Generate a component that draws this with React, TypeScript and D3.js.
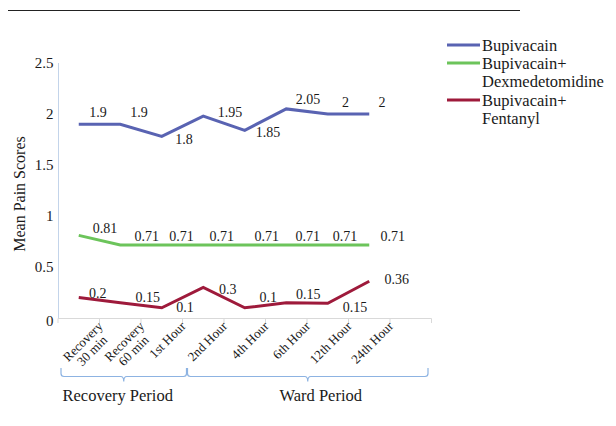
import React from 'react';
import * as d3 from 'd3';

// ---------- data ----------
const categories = [
  'Recovery\n30 min',
  'Recovery\n60 min',
  '1st Hour',
  '2nd Hour',
  '4th Hour',
  '6th Hour',
  '12th Hour',
  '24th Hour',
];
const slotCount = 9; // category slots on the axis (last one empty)

const seriesNames = ['Bupivacain', 'Bupivacain+\nDexmedetomidine', 'Bupivacain+\nFentanyl'];

const bupivacainValues = [1.9, 1.9, 1.78, 1.98, 1.84, 2.05, 2, 2];
const bupivacainLabels = ['1.9', '1.9', '1.8', '1.95', '1.85', '2.05', '2', '2'];

const dexValues = [0.81, 0.715, 0.715, 0.715, 0.715, 0.715, 0.715, 0.715];
const dexLabels = ['0.81', '0.71', '0.71', '0.71', '0.71', '0.71', '0.71', '0.71'];

const fentanylValues = [0.2, 0.15, 0.1, 0.3, 0.1, 0.15, 0.145, 0.36];
const fentanylLabels = ['0.2', '0.15', '0.1', '0.3', '0.1', '0.15', '0.15', '0.36'];

const yTicks = [0, 0.5, 1, 1.5, 2, 2.5];
const yTickLabels = ['0', '0.5', '1', '1.5', '2', '2.5'];

const periodNames = ['Recovery Period', 'Ward Period'];
const periodStart = [0, 3];
const periodEnd = [3, 9];

const yTitle = 'Mean Pain Scores';

// ---------- layout / style (not data) ----------
const W = 616;
const H = 426;
const colors = ['#5963B2', '#6CC45B', '#9E1A3B'];
const FONT = '"Liberation Serif", "Times New Roman", serif';

// label offsets relative to (tick at right of point, point y)
const bupLabelDx = [-1.5, -2, 1.5, 6, 2.5, 1, -3, -8];
const bupLabelDy = [-12, -12, 3, -4, 2.5, -9, -12, -12];
const dexLabelDx = [5.5, 5.7, -1, -2.3, 1.2, 0.7, -3.5, 2.7];
const dexLabelDy = [-7, -8.4, -8.4, -8.4, -8.4, -8.4, -8.4, -8.4];
const fenLabelDx = [-1.8, 6.7, 2.5, 3.7, 2.8, 1.3, 6.5, 6.7];
const fenLabelDy = [-4.3, -5.4, -0.5, 1.9, -10.5, -8.7, 4, -1.3];

let ctx: CanvasRenderingContext2D | null = null;
function measure(text: string, size: number) {
  if (!ctx) ctx = document.createElement('canvas').getContext('2d');
  if (!ctx) return text.length * size * 0.5;
  ctx.font = `${size}px "Liberation Serif"`;
  return ctx.measureText(text).width;
}

export default function App() {
  const x = d3.scaleLinear().domain([0, slotCount]).range([58, 431.5]);
  const y = d3.scaleLinear().domain([0, 2.5]).range([318, 63]);

  const series = [
    { name: seriesNames[0], values: bupivacainValues, labels: bupivacainLabels, dx: bupLabelDx, dy: bupLabelDy },
    { name: seriesNames[1], values: dexValues, labels: dexLabels, dx: dexLabelDx, dy: dexLabelDy },
    { name: seriesNames[2], values: fentanylValues, labels: fentanylLabels, dx: fenLabelDx, dy: fenLabelDy },
  ];

  const line = d3
    .line<number>()
    .x((_, i) => x(i + 0.5))
    .y((d) => y(d));

  const xLabelSize = 13;
  const lh = 13;

  const bracket = (x0: number, x1: number) => {
    const top = 368;
    const bot = 376.5;
    const r = 3;
    const cx = (x0 + x1) / 2;
    return [
      `M${x0},${top}`,
      `L${x0},${bot - r}`,
      `Q${x0},${bot} ${x0 + r},${bot}`,
      `L${cx - 3},${bot}`,
      `Q${cx},${bot} ${cx},${bot + 5}`,
      `Q${cx},${bot} ${cx + 3},${bot}`,
      `L${x1 - r},${bot}`,
      `Q${x1},${bot} ${x1},${bot - r}`,
      `L${x1},${top}`,
    ].join(' ');
  };

  const bracketX0 = (i: number) => (i === 0 ? x(periodStart[i]) + 3 : x(periodStart[i]) + 5);
  const bracketX1 = (i: number) => (i === 0 ? x(periodEnd[i]) + 4 : x(periodEnd[i]) - 3.5);

  return (
    <svg
      width={W}
      height={H}
      style={{ position: 'absolute', left: 0, top: 0, background: '#fff' }}
      fontFamily={FONT}
    >
      <rect x={0} y={0} width={W} height={H} fill="#fff" />
      {/* top rule */}
      <line x1={8} x2={520} y1={10.5} y2={10.5} stroke="#222" strokeWidth={1.2} />

      {/* y axis */}
      <line x1={58.5} x2={58.5} y1={y(2.5)} y2={y(0)} stroke="#C3D4EA" strokeWidth={1} />
      {yTicks.map((t, i) => (
        <text
          key={t}
          x={53.5}
          y={y(t) + (i === 0 ? 3 : 0)}
          textAnchor="end"
          dominantBaseline="central"
          fontSize={15}
          fill="#1a1a1a"
        >
          {yTickLabels[i]}
        </text>
      ))}
      <text
        transform={`translate(19,${194}) rotate(-90)`}
        textAnchor="middle"
        dominantBaseline="central"
        fontSize={16}
        fill="#1a1a1a"
      >
        {yTitle}
      </text>

      {/* x axis */}
      <line x1={x(0)} x2={x(slotCount)} y1={318.5} y2={318.5} stroke="#D9D9D9" strokeWidth={1} />
      {d3.range(slotCount + 1).map((i) => (
        <line key={i} x1={x(i)} x2={x(i)} y1={318.5} y2={323} stroke="#D9D9D9" strokeWidth={1} />
      ))}
      {categories.map((c, i) => {
        const lines = c.split('\n');
        const w0 = measure(lines[0], xLabelSize);
        return (
          <g key={c} transform={`translate(${x(i + 1) + 4},${327}) rotate(-45)`}>
            {lines.map((l, j) => {
              const wj = measure(l, xLabelSize);
              const shift = j === 0 ? 0 : -(w0 - wj) / 2;
              return (
                <text key={j} x={shift} y={j * lh} textAnchor="end" fontSize={xLabelSize} fill="#1a1a1a">
                  {l}
                </text>
              );
            })}
          </g>
        );
      })}

      {/* series lines */}
      {series.map((s, k) => (
        <path key={s.name} d={line(s.values) || ''} fill="none" stroke={colors[k]} strokeWidth={3} strokeLinejoin="miter" />
      ))}
      {/* data labels */}
      {series.map((s, k) =>
        s.labels.map((lab, i) => (
          <text
            key={`${k}-${i}`}
            x={x(i + 1) + s.dx[i]}
            y={y(s.values[i]) + s.dy[i]}
            textAnchor="middle"
            dominantBaseline="central"
            fontSize={14}
            fill="#1a1a1a"
          >
            {lab}
          </text>
        ))
      )}

      {/* period brackets */}
      {periodNames.map((p, i) => {
        const x0 = bracketX0(i);
        const x1 = bracketX1(i);
        return (
          <g key={p}>
            <path d={bracket(x0, x1)} fill="none" stroke="#8DB3E2" strokeWidth={1.2} />
            <text
              x={i === 0 ? x0 + 1.5 : (x0 + x1) / 2 + 13}
              y={395}
              textAnchor={i === 0 ? 'start' : 'middle'}
              dominantBaseline="central"
              fontSize={16.5}
              fill="#1a1a1a"
            >
              {p}
            </text>
          </g>
        );
      })}

      {/* legend */}
      {series.map((s, k) => {
        const yy = [45, 63, 100][k];
        const lines = s.name.split('\n');
        return (
          <g key={s.name}>
            <line x1={447} x2={480} y1={yy} y2={yy} stroke={colors[k]} strokeWidth={3} />
            {lines.map((l, j) => (
              <text key={j} x={482} y={yy + j * 18.3} dominantBaseline="central" fontSize={16.5} fill="#1a1a1a">
                {l}
              </text>
            ))}
          </g>
        );
      })}
    </svg>
  );
}
